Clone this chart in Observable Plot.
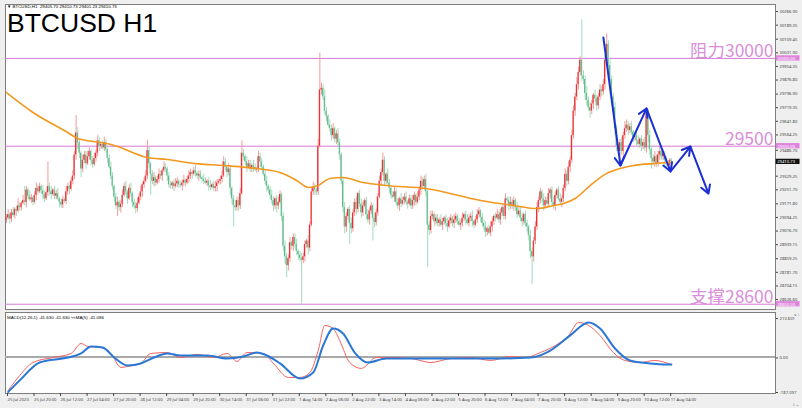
<!DOCTYPE html>
<html><head><meta charset="utf-8">
<script src="https://cdn.jsdelivr.net/npm/d3@7"></script>
<script src="https://cdn.jsdelivr.net/npm/@observablehq/plot@0.6"></script>
<style>
body{margin:0;background:#fff;}
#wrap{position:relative;width:802px;height:408px;overflow:hidden;background:#efefef;font-family:"Liberation Sans",Arial,sans-serif;}
#main{position:absolute;left:0;top:0;}
#macd{position:absolute;left:0;top:310px;}
.t{position:absolute;white-space:nowrap;color:#000;}
</style></head>
<body><div id="wrap">
<div id="main"></div><div id="macd"></div>
<div class="t" style="left:7px;top:4px;font-size:4.4px;line-height:5px;">▼ BTCUSD,H1&nbsp; 29405.70 29410.73 29401.23 29410.73</div>
<div class="t" style="left:7px;top:10px;font-size:26.5px;line-height:26px;">BTCUSD H1</div>
<div class="t" style="left:7px;top:315px;font-size:4.4px;line-height:5px;">MACD(12,26,1) -41.630 -41.630 ≈≈MA(5) -41.086</div>
</div>
<script>
// ---------- data ----------
const firstOpen = 29080;
const closes = [
29090,29110,29085,29120,29105,29140,29130,29160,29150,29175,
29190,29180,29250,29215,29195,29205,29180,29220,29260,29240,
29270,29245,29225,29200,29235,29270,29240,29225,29250,29215,
29230,29200,29180,29165,29195,29185,29240,29270,29255,29300,
29330,29450,29575,29520,29460,29370,29420,29450,29400,29440,
29470,29420,29395,29430,29460,29530,29500,29510,29490,29520,
29480,29430,29380,29330,29270,29210,29160,29180,29150,29170,
29220,29270,29240,29200,29260,29230,29180,29160,29145,29175,
29210,29240,29280,29300,29330,29475,29400,29340,29300,29320,
29290,29310,29340,29330,29360,29380,29370,29330,29280,29275,
29290,29270,29285,29300,29280,29275,29290,29305,29290,29310,
29330,29350,29340,29360,29345,29330,29340,29320,29310,29300,
29290,29300,29275,29265,29280,29260,29270,29290,29300,29310,
29330,29410,29380,29350,29370,29260,29200,29160,29150,29190,
29160,29230,29460,29440,29410,29380,29400,29370,29390,29380,
29365,29370,29440,29410,29380,29340,29300,29270,29250,29220,
29190,29160,29200,29160,29180,29225,29100,28930,28870,28820,
28860,28950,28930,28980,28940,28900,28880,28860,28850,28870,
28940,28960,28920,29050,29240,29265,29250,29240,29500,29820,
29830,29780,29700,29670,29620,29600,29560,29600,29540,29570,
29520,29450,29300,29150,29040,29100,29140,29060,29030,29120,
29180,29140,29230,29170,29120,29160,29190,29110,29080,29130,
29160,29090,29065,29120,29210,29300,29350,29420,29300,29340,
29290,29260,29220,29210,29240,29180,29160,29200,29170,29190,
29210,29180,29170,29200,29160,29190,29220,29180,29210,29250,
29300,29270,29310,29240,29050,29020,29100,29110,29070,29090,
29060,29080,29050,29070,29090,29060,29040,29075,29090,29060,
29080,29100,29070,29050,29060,29090,29110,29080,29060,29090,
29100,29070,29050,29080,29110,29130,29095,29060,29040,29010,
29030,29005,29040,29070,29100,29090,29110,29080,29120,29150,
29100,29200,29190,29160,29180,29160,29190,29150,29110,29130,
29090,29070,29110,29060,29040,28990,28900,28870,28960,29040,
29150,29190,29240,29200,29160,29190,29170,29230,29250,29180,
29160,29220,29250,29200,29180,29200,29260,29340,29300,29380,
29420,29560,29700,29780,29850,29920,29990,29900,29880,29800,
29760,29720,29700,29740,29790,29770,29730,29780,29820,29810,
29850,29990,30080,29960,29880,29780,29720,29600,29500,29470,
29520,29470,29560,29600,29620,29590,29610,29580,29550,29560,
29530,29510,29540,29500,29520,29490,29690,29560,29480,29430,
29410,29440,29400,29450,29470,29440,29460,29420,29400,29390,
29420,29410.73];
// wick lengths above / below the body, in units of $10
const hiWick = [
2,3,1,2,3,1,2,4,2,1,3,8,2,1,3,2,1,2,3,2,
2,1,3,2,1,14,2,3,1,2,2,3,1,2,2,1,3,2,1,2,
3,2,10,3,2,1,3,2,2,3,2,1,2,3,2,3,2,1,2,3,
2,1,2,3,2,1,2,3,1,2,3,2,3,1,2,3,1,2,2,3,
2,3,1,2,3,6,2,1,2,3,1,2,3,2,1,3,2,1,2,2,
1,2,3,2,1,2,2,3,1,2,3,2,1,2,3,1,2,2,1,3,
2,1,2,3,1,2,3,2,1,2,3,3,2,1,3,2,1,2,3,2,
2,3,7,2,1,3,2,2,1,3,2,1,3,2,2,1,2,3,1,2,
3,2,1,2,3,2,1,2,3,2,2,3,1,2,2,3,1,2,3,2,
2,1,3,2,2,3,2,1,4,21,3,2,4,2,1,3,2,3,1,2,
3,2,1,2,3,2,1,2,3,2,2,3,1,2,3,2,1,2,3,2,
2,1,3,2,2,3,2,4,2,1,3,2,1,2,3,2,2,1,3,2,
2,3,1,2,2,3,2,1,3,2,3,2,2,3,1,2,3,2,1,2,
2,1,3,2,1,2,3,2,2,1,3,2,1,2,2,3,1,2,3,2,
2,3,1,2,3,2,1,2,2,3,1,2,3,2,1,2,3,2,2,1,
2,3,1,2,3,2,2,1,3,2,2,3,1,2,2,1,3,2,2,3,
3,2,2,1,3,2,2,3,1,2,3,2,1,2,3,2,2,3,2,3,
2,3,3,2,4,3,2,23,3,2,4,2,3,2,1,3,2,2,3,2,
3,3,6,2,3,2,2,3,2,1,2,3,2,4,3,2,2,3,1,2,
2,3,1,2,2,3,1,2,3,2,2,3,1,2,3,2,2,1,2,1,
1,1];
const loWick = [
2,1,3,2,1,2,3,1,2,2,1,2,3,2,1,2,2,1,3,2,
1,2,3,2,1,2,2,3,1,2,2,1,3,2,2,1,2,2,3,1,
2,2,3,4,3,5,2,2,3,1,2,3,2,1,2,2,3,2,1,2,
2,3,1,2,2,3,2,6,2,3,2,1,2,3,1,2,3,2,3,2,
1,2,3,2,1,2,3,12,2,3,2,1,2,2,3,1,2,3,2,2,
2,3,1,2,2,1,3,2,2,1,2,2,3,1,2,2,3,1,2,2,
1,2,3,2,1,2,2,3,1,2,2,1,2,3,2,4,3,12,2,2,
3,2,1,2,2,3,1,2,2,3,1,2,2,3,2,1,2,3,2,2,
2,3,2,4,2,1,3,3,4,7,3,2,2,3,2,2,3,2,26,2,
3,2,4,2,1,2,3,2,2,1,3,2,2,3,1,2,3,2,2,3,
2,3,2,3,4,3,2,12,3,2,2,3,2,2,3,2,1,3,2,3,
2,13,3,2,2,1,3,2,3,2,2,3,2,1,3,2,2,3,2,1,
2,2,3,1,2,2,3,2,1,2,3,2,2,3,24,3,2,2,3,2,
2,2,1,3,2,2,3,1,2,2,3,2,2,1,3,2,2,3,1,2,
2,3,2,1,2,2,3,2,2,3,2,1,2,3,2,2,1,2,3,2,
2,2,1,3,2,2,3,2,2,1,2,3,2,2,3,3,4,16,3,2,
2,3,2,2,3,2,1,2,3,2,2,3,2,1,2,3,2,2,3,2,
3,2,2,3,2,3,2,3,3,4,3,2,4,2,3,2,3,2,2,3,
2,3,2,3,3,2,3,4,3,2,3,2,3,2,2,3,2,2,3,2,
3,2,2,3,2,2,3,4,3,6,2,3,2,2,3,2,2,3,2,1,
1,1];
// moving average (orange) read at selected bars
const maIdx = [0,16,37,43,57,65,85,97,114,131,151,165,175,182,188,195,203,215,229,253,286,306,320,330,336,343,352,362,370,378,390,401];
const maVal = [29805,29692,29578,29544,29521,29504,29436,29424,29401,29390,29373,29350,29305,29265,29276,29316,29322,29293,29276,29259,29191,29162,29145,29162,29174,29202,29276,29345,29373,29390,29401,29407];
// MACD panel
const macdIdx = [1,8,16,28,39,45,49,57,63,69,73,81,87,97,105,115,125,133,139,145,155,161,170,177,183,188,192,197,201,207,214,223,232,244,256,268,280,292,304,313,322,331,339,345,351,358,366,373,382,391,401];
const macdVal = [-182,-100,-30,-3,19,73,57,51,19,-57,-51,-35,19,24,-3,14,-3,19,-24,24,19,-35,-111,-111,-84,35,171,154,89,-30,-62,-3,-3,-8,-30,-8,-3,-19,3,-3,24,62,116,187,171,116,24,-19,-30,-19,-41.6];
const sigIdx = [1,8,20,37,45,51,58,65,73,81,89,97,105,121,133,143,151,157,165,177,185,191,197,203,210,218,229,250,274,298,316,328,340,351,358,367,376,388,401];
const sigVal = [-190,-127,-30,-3,19,57,51,-3,-46,-35,-3,19,8,8,-8,3,24,8,-35,-117,-84,62,154,127,24,-30,-8,-8,-8,-8,-3,35,117,187,154,46,-19,-35,-41.1];
// levels and labels
const levels = [30000, 29500, 28600];
const levelText = ["阻力30000", "29500", "支撑28600"];
const priceTicks = [30266.90,30189.35,30109.45,30031.90,29954.35,29876.80,29796.90,29719.35,29641.80,29564.25,29329.25,29251.70,29171.80,29094.25,29016.70,28939.15,28859.25,28781.70,28704.15,28626.60];
const hiddenTick = [29486.70];
const currentPrice = 29410.73;
const macdTicks = [213.601, 0, -187.097];
const macdTickText = ["213.601", "0.00", "-187.097"];
const timeIdx = [0,16,32,48,64,80,96,112,128,144,160,176,192,208,224,240,256,272,288,304,320,336,352,368,384,400];
const timeText = ["25 Jul 2023","25 Jul 20:00","26 Jul 12:00","27 Jul 04:00","27 Jul 20:00","28 Jul 12:00","29 Jul 04:00","29 Jul 20:00","30 Jul 14:00","31 Jul 06:00","31 Jul 22:00","1 Aug 14:00","2 Aug 06:00","2 Aug 22:00","3 Aug 14:00","4 Aug 06:00","4 Aug 22:00","5 Aug 20:00","6 Aug 12:00","7 Aug 04:00","7 Aug 20:00","8 Aug 12:00","9 Aug 04:00","9 Aug 20:00","10 Aug 12:00","11 Aug 04:00"];
// forecast path (blue arrows): bar index and price
const pathIdx = [360, 370.3, 386, 400.5, 412.5, 423.4];
const pathPrice = [30119, 29390, 29715, 29356, 29498, 29230];

// ---------- build ----------
const candles = closes.map((c, i) => {
  const o = i === 0 ? firstOpen : closes[i - 1];
  return {i, o, c, hi: Math.max(o, c) + hiWick[i] * 10, lo: Math.min(o, c) - loWick[i] * 10, up: c >= o};
});
const ma = maIdx.map((i, k) => ({i, v: maVal[k]}));
const macd = macdIdx.map((i, k) => ({i, v: macdVal[k]}));
const sig = sigIdx.map((i, k) => ({i, v: sigVal[k]}));
const segs = pathIdx.slice(1).map((x, k) => ({x1: pathIdx[k], y1: pathPrice[k], x2: x, y2: pathPrice[k + 1]}));
const lvl = levels.map((v, k) => ({v, t: levelText[k]}));
const boxes = levels.map(v => ({v, t: v.toFixed(2), bg: "#de84de", fg: "#fff"}))
  .concat([{v: currentPrice, t: currentPrice.toFixed(2), bg: "#111", fg: "#fff"}]);
const xDomain = [-0.6, 463.8];
const small = 4.2;
const UP = "#ec2f33", DOWN = "#5fba8c";

const main = Plot.plot({
  width: 802, height: 311,
  marginLeft: 5, marginRight: 27, marginTop: 4, marginBottom: 2,
  x: {domain: xDomain, axis: null},
  y: {domain: [28570, 30307], axis: null},
  style: {background: "transparent", overflow: "visible"},
  marks: [
    Plot.frame({fill: "white", stroke: "#7d7d7d"}),
    Plot.ruleY(lvl, {y: "v", stroke: "#d47ad4", strokeWidth: 1}),
    Plot.ruleX(candles, {x: "i", y1: "lo", y2: "hi", stroke: d => d.up ? "#f39a9a" : "#a3dbbd", strokeWidth: 1}),
    Plot.rect(candles, {x1: d => d.i - 0.36, x2: d => d.i + 0.36, y1: d => Math.min(d.o, d.c), y2: d => Math.max(Math.max(d.o, d.c), Math.min(d.o, d.c) + 5), fill: d => d.up ? UP : DOWN}),
    Plot.line(ma, {x: "i", y: "v", stroke: "#f2981f", strokeWidth: 1.6, curve: "monotone-x"}),
    Plot.arrow(segs, {x1: "x1", y1: "y1", x2: "x2", y2: "y2", stroke: "#1c2fd2", strokeWidth: 2, headLength: 7}),
    Plot.text(lvl, {x: 462.6, y: "v", text: "t", textAnchor: "end", lineAnchor: "bottom", dy: -1, fill: "#d98ed9", fontSize: 17.5, fontFamily: "'Noto Sans CJK SC', 'Liberation Sans', sans-serif"}),
    Plot.axisY(priceTicks, {anchor: "right", tickSize: 2, tickPadding: 2, tickFormat: d => d.toFixed(2), fontSize: small, color: "#444"}),
    Plot.axisY(hiddenTick, {anchor: "right", tickSize: 2, tickPadding: 2, tickFormat: d => d.toFixed(2), fontSize: small, color: "#444", dy: 1.8}),
    Plot.rect(boxes, {x1: 464.2, x2: 478.6, y1: d => d.v - 15, y2: d => d.v + 15, fill: "bg", clip: false}),
    Plot.text(boxes, {x: 464.8, y: "v", text: "t", textAnchor: "start", fill: "fg", fontSize: small})
  ]
});
document.getElementById("main").append(main);

const macdChart = Plot.plot({
  width: 802, height: 98,
  marginLeft: 5, marginRight: 27, marginTop: 2, marginBottom: 15,
  x: {domain: xDomain, axis: null},
  y: {domain: [-198, 241], axis: null},
  style: {background: "transparent", overflow: "visible"},
  marks: [
    Plot.frame({fill: "white", stroke: "#7d7d7d"}),
    Plot.ruleY([0], {stroke: "#a9a9a9", strokeWidth: 2}),
    Plot.line(macd, {x: "i", y: "v", stroke: "#f2625e", strokeWidth: 1, curve: "monotone-x"}),
    Plot.line(sig, {x: "i", y: "v", stroke: "#2a78d6", strokeWidth: 2, curve: "monotone-x"}),
    Plot.axisY(macdTicks, {anchor: "right", tickSize: 2, tickPadding: 2, tickFormat: d => macdTickText[macdTicks.indexOf(d)], fontSize: small, color: "#444", dy: 1}),
    Plot.axisX(timeIdx, {anchor: "bottom", tickSize: 3, tickPadding: 2, tickFormat: d => timeText[timeIdx.indexOf(d)], textAnchor: "start", dx: 1, fontSize: small, color: "#444"})
  ]
});
document.getElementById("macd").append(macdChart);
</script>
</body></html>
